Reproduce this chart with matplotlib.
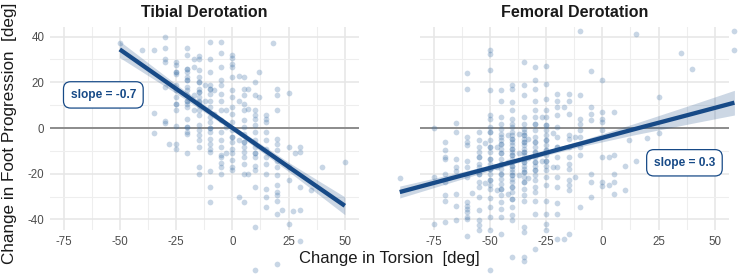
import numpy as np
import matplotlib
matplotlib.use("Agg")
import matplotlib.pyplot as plt

plt.rcParams['font.family'] = ['Liberation Sans', 'DejaVu Sans']
plt.rcParams['axes.unicode_minus'] = False

# ---------------- data ----------------
panel_titles = ["Tibial Derotation", "Femoral Derotation"]
x_label = "Change in Torsion  [deg]"
y_label = "Change in Foot Progression  [deg]"
x_ticks = [-75, -50, -25, 0, 25, 50]
y_ticks = [-40, -20, 0, 20, 40]

# Tibial derotation: torsion change columns and foot progression values in each
tib_cols = [-50, -40, -35, -30, -28, -25, -20, -17, -15, -12, -10, -8, -5, -3, 0,
            3, 5, 7, 10, 12, 15, 18, 20, 22, 25, 27, 28, 30, 35, 40, 50]
tib_vals = [
    [37.4],
    [34],
    [34.3, 6.7, -2],
    [40, 35, 30, 29, 18, 3, 2.3],
    [-7],
    [29, 27.5, 24.5, 23.8, 18.7, 16.5, 13.6, 10.7, 7.7, 0.7, -6.9, -9, 24.5, 10.7],
    [35, 32, 26, 24.5, 22.3, 21, 18, 16.5, 14.3, 12, 10.7, 9.2, 4, 0.4, -1.8, -2.5, -11, 26, 21, 12, 0.4],
    [30, 26.7, 14.3, 7.7],
    [31.4, 30, 25.3, 22.3, 20, 17.2, 15.8, 13.6, 12, 11.4, 9.9, 7.7, 5.5, 1.2, -1, -3.2,
     -5.4, -8.3, -17, -20, 20, 15.8],
    [18.7, 12],
    [37.7, 30.4, 24.5, 18.7, 17.2, 15, 12, 9.2, 4.8, 2.6, 0.1, -1.8, -4.7, -6.9, -9, -10.5,
     -18.8, -25.8, -32.4, 17.2, 0.1],
    [16.5, 6.3],
    [37.7, 32.8, 26.7, 21, 18.7, 15, 12, 7.7, 3.4, -1.8, -5.4, -8.3, -12, -12.7, -15.3, -17, -20],
    [7.7, 0.4, -11],
    [32, 30.8, 28, 26.7, 22.3, 16.5, 13.6, 9.2, 6.3, 2.6, -1, -3.9, -6, -9, -11, -14, -17, -18.5, -3.9],
    [22.6, 12, -5.4, -30.2],
    [22.3, 17.2, 14.3, 10.7, 7.7, 3.4, 0.4, -2.5, -6, -8.3, -10.5, -12.7, -15.6, -20, -32.4, -6],
    [17.2, 8.5, -20],
    [20, 14.3, 7.7, 5.5, 4, 1.2, -1.8, -5.4, -8.3, -11, -12.7, -16.4, -18.5, -25.8, -43.4, -62.3, -11],
    [24.5, 13.6],
    [5.5, 4, 2.6, -1.8, -5.4, -9, -12.7, -15.6, -20, -26.6, -30.2, -34.6],
    [37],
    [17.2, 14.3, 7.7, -4.7, -6.9, -9.8, -14.2, -17, -20.7, -25, -28, -29.5, -31.7, -37.5, -59.4],
    [-35.8],
    [15.3, -8.3, -17, -22.9, -41.9],
    [-36.5],
    [-11],
    [-8.3, -10.5, -25.8, -36, -49.2],
    [-27.3],
    [-17],
    [-14.9],
]

# Femoral derotation
fem_cols = [-90, -75, -70, -65, -60, -58, -55, -52, -50, -47, -45, -42, -40, -37, -35, -33,
            -30, -27, -25, -22, -20, -17, -15, -12, -10, -5, 0, 3, 5, 10, 12, 15, 20, 25,
            35, 40, 58.7]
fem_vals = [
    [-22],
    [0, -21.5, -42],
    [-6, -9.8, -12.7, -13.4, -20, -23.6, -29.2, -32, -41],
    [2.3, -1.8, -13.4, -17, -19, -29, -34, -40.4],
    [24, 17.2, -3.9, -6, -7.6, -14.2, -17, -21.5, -32.4, -34, -35.3, -36.8, -39, -39.7, -47.4],
    [-28.5],
    [-1.8, -5.4, -8.3, -10.5, -12.7, -15.6, -17, -20, -23.6, -25.8, -30.2, -35.8, -40.4, -42.6,
     -44.8, -12.7, -20],
    [-6.5, -24],
    [34, 32.6, 25.3, 16.5, 5.5, 4, 0.4, -1.8, -5.4, -8.3, -10.5, -13.4, -15.6, -17.8, -20,
     -22.9, -25, -26.6, -30.7, -34.6, -39, -44.8, -62.3, -8.3, -13.4, -17.8, -22.9, -1.8],
    [-8.3, -17, -27.3],
    [16.5, 12, 4.8, 1.9, -0.3, -2.5, -3.9, -5.4, -6.9, -9, -11, -13.4, -15.6, -17.8, -20,
     -22.2, -24.4, -26.6, -29.5, -32.4, -35.3, -38.7, -46.3, -6.9, -11, -15.6, -20, -26.6],
    [-3, -15, -29],
    [18.7, 17.2, 11.4, 7.7, 4, 1.9, 0.4, -1.8, -3.2, -4.7, -6, -7.6, -9, -10.5, -12, -13.4,
     -14.9, -16.4, -17.8, -19.3, -20.7, -22.2, -23.6, -25.8, -28, -30.9, -34.6, -38.2, -40.4,
     -56.5, -9, -12, -16.4, -20.7, -25.8, -4.7, -30.9],
    [-2.5, -11, -20.7],
    [28.9, 18.7, 14.3, 4.8, 1.9, -0.3, -1.8, -3.2, -4.7, -6, -7.6, -9, -10.5, -12, -13.4,
     -14.9, -16.4, -17.8, -19.3, -21.5, -23.6, -26.6, -29.5, -31.7, -43.4, -45.5, -56.5, -58,
     -6, -10.5, -14.9, -19.3, -3.2, -23.6],
    [-5, -13, -22],
    [26.7, 21, 17.2, 12, 7.7, 4.8, 1.9, -1, -3.9, -6, -8.3, -10.5, -12.7, -14.9, -16.4, -18.5,
     -20.7, -22.9, -25.8, -28, -31.7, -37.5, -52.8, -6, -10.5, -14.9, -18.5, 1.9],
    [4.8, -14.2],
    [27, 19.4, 12.8, 7.7, 4.8, 1.2, -1, -3.2, -5.4, -7.6, -9.8, -12, -14.2, -16.4, -18.5,
     -21.5, -25, -31.7, -37.5, -41.9, -44.8, -5.4, -9.8, -14.2, 1.2],
    [-2, -17],
    [15, 12, 9.2, 5.5, 0.4, -3.9, -8.3, -12.7, -17, -21.5, -25.8, -33, -37.5, -48.5, -8.3],
    [9.2, -48.5],
    [15, 12, 6.3, -3.2, -4.7, -8.3, -12.7, -15.6, -17.8, -22.9, -25, -27.3, -46.3],
    [-3.9, -21.5],
    [42.5, 14.3, 4, 1.9, -1, -3.9, -8.3, -12, -34.6],
    [24.8, 9.2, 6.3, 3.4, -20, -23.6, -30.2],
    [20.9, 7, 4, 2.6, -1, -12.7, -23.6, -25.5],
    [-12.7, -25],
    [7, -12, -20, -23.6, -28.8],
    [-16.6, -27.3],
    [-5.1],
    [41.3, -14.5],
    [-4.2],
    [13.6, -2.2],
    [33],
    [25.7],
    [42.5, 34.3],
]

# fitted lines and confidence half-widths
tib_fit_x = [-50, -25, 0, 25, 50]
tib_fit_y = [34.4, 17.2, 0.1, -17.0, -34.0]
tib_ci_hw = [3.6, 2.0, 1.2, 2.0, 3.9]

fem_fit_x = [-90, -60, -35, -10, 15, 40, 58.7]
fem_fit_y = [-28.0, -20.1, -13.5, -6.9, -0.3, 6.2, 11.1]
fem_ci_hw = [2.6, 1.5, 0.9, 1.3, 2.5, 4.1, 5.4]

slope_texts = ["slope = -0.7", "slope = 0.3"]
slope_pos_x = [-57.3, 36.5]
slope_pos_y = [14.5, -15.2]

# ---------------- styling ----------------
LINE_C = '#174a87'
PT_C = '#3a6ea5'
GRID_MAJ = '#e6e6e6'
GRID_MIN = '#eeeeee'
TICK_C = '#4d4d4d'

W, H = 740, 276
fig = plt.figure(figsize=(W / 100, H / 100), dpi=100)

panels = [(50, 359), (420, 729)]
top_px, bot_px = 27, 230
xlim = (-81, 56.3)
ylim = (-44.6, 44.2)

data = [(tib_cols, tib_vals, tib_fit_x, tib_fit_y, tib_ci_hw),
        (fem_cols, fem_vals, fem_fit_x, fem_fit_y, fem_ci_hw)]

for i, (l, r) in enumerate(panels):
    ax = fig.add_axes([l / W, 1 - bot_px / H, (r - l) / W, (bot_px - top_px) / H])
    cols, vals, fx, fy, hw = data[i]
    xs = np.concatenate([[c] * len(v) for c, v in zip(cols, vals)])
    ys = np.concatenate([np.asarray(v, float) for v in vals])

    ax.set_xlim(*xlim)
    ax.set_ylim(*ylim)
    ax.set_xticks(x_ticks)
    ax.set_xticks([-62.5, -37.5, -12.5, 12.5, 37.5], minor=True)
    ax.set_yticks(y_ticks)
    ax.set_yticks([-30, -10, 10, 30], minor=True)
    ax.grid(True, which='major', color=GRID_MAJ, lw=1.1, zorder=0)
    ax.grid(True, which='minor', color=GRID_MIN, lw=0.8, zorder=0)
    ax.set_axisbelow(True)
    for s in ax.spines.values():
        s.set_visible(False)
    ax.tick_params(which='both', length=0, labelsize=8.3, labelcolor=TICK_C, pad=4)
    if i == 1:
        ax.tick_params(labelleft=False)

    ax.axhline(0, color='#8c8c8c', lw=1.4, zorder=1)
    ax.scatter(xs, ys, s=17, color=PT_C, alpha=0.28, linewidths=0, zorder=2, clip_on=False)

    fx = np.asarray(fx, float)
    fy = np.asarray(fy, float)
    hw = np.asarray(hw, float)
    ax.fill_between(fx, fy - hw, fy + hw, color=LINE_C, alpha=0.22, lw=0,
                    zorder=3, clip_on=False)
    ax.plot(fx, fy, color=LINE_C, lw=3.1, solid_capstyle='butt', zorder=4, clip_on=False)

    ax.text(slope_pos_x[i], slope_pos_y[i], slope_texts[i], color=LINE_C, fontsize=8.6,
            fontweight='bold', ha='center', va='center', zorder=6,
            bbox=dict(boxstyle='round,pad=0.6,rounding_size=0.6', fc='white',
                      ec=LINE_C, lw=0.9))

    ax.set_title(panel_titles[i], fontsize=11.5, fontweight='bold', color='#1a1a1a', pad=7)

fig.text(389.5 / W, 1 - 258 / H, x_label, ha='center', va='center', fontsize=12,
         color='#1a1a1a')
fig.text(10 / W, 1 - 133 / H, y_label, ha='center', va='center', rotation=90,
         fontsize=12.3, color='#1a1a1a')

fig.savefig('out.png', dpi=100)
